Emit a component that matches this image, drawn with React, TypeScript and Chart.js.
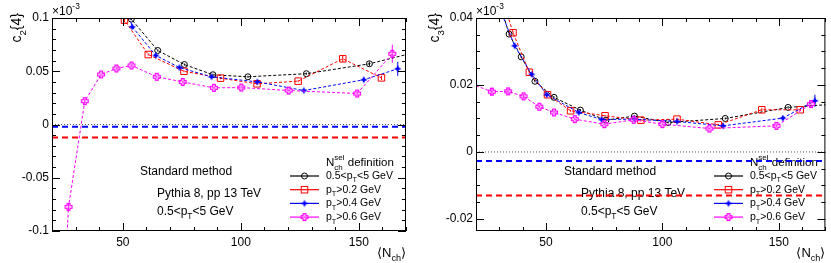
import React, { useEffect, useRef } from 'react';
import { Chart, registerables } from 'chart.js';

Chart.register(...registerables);

const FONT = '"Liberation Sans", Arial, Helvetica, sans-serif';

// ---------- shared x axis ----------
const xMin = 20;
const xMax = 170;
const xTickLabels = [50, 100, 150];
const xTitle = '⟨N_{ch}⟩';

// ---------- legend / annotation texts ----------
const legendTitle = 'N_{ch}^{sel} definition';
const seriesNames = ['0.5<p_T<5 GeV', 'p_T>0.2 GeV', 'p_T>0.4 GeV', 'p_T>0.6 GeV'];
const infoTexts = ['Standard method', 'Pythia 8, pp 13 TeV', '0.5<p_T<5 GeV'];
const scaleText = '×10^{-3}';

// ---------- c2{4} panel ----------
const c2Title = 'c_2{4}';
const c2YMin = -0.1;
const c2YMax = 0.1;
const c2YLabels = [-0.1, -0.05, 0, 0.05, 0.1];
const c2BlackN = [45, 53.6, 64.8, 76.1, 88.2, 103, 127.8, 154.5, 172];
const c2BlackV = [0.16, 0.099, 0.0695, 0.0563, 0.0467, 0.0448, 0.0477, 0.057, 0.0667];
const c2BlackE = [0, 0.001, 0.001, 0.001, 0.001, 0.001, 0.001, 0.002, 0.002];
const c2RedN = [44, 50.7, 60.8, 75.9, 91.4, 106.9, 124.3, 143.2, 159.6];
const c2RedV = [0.15, 0.098, 0.0657, 0.05, 0.0435, 0.0382, 0.0407, 0.0617, 0.0438];
const c2RedE = [0, 0.002, 0.001, 0.001, 0.001, 0.001, 0.001, 0.003, 0.002];
const c2BlueN = [46, 54, 64, 74, 87.6, 107, 126.7, 152.1, 166.5];
const c2BlueV = [0.155, 0.0917, 0.0648, 0.0535, 0.0448, 0.04, 0.0319, 0.042, 0.0523];
const c2BlueE = [0, 0.002, 0.001, 0.001, 0.001, 0.001, 0.001, 0.002, 0.0066];
const c2MagN = [24, 27, 33.9, 40.8, 47.3, 53.7, 64.4, 75.4, 88.6, 100.2, 120.3, 149.3, 164.2];
const c2MagV = [-0.2, -0.0773, 0.0219, 0.047, 0.0526, 0.0554, 0.0448, 0.04, 0.0344, 0.0347, 0.0319, 0.0291, 0.0664];
const c2MagE = [0, 0.003, 0.002, 0.001, 0.001, 0.001, 0.001, 0.001, 0.001, 0.001, 0.001, 0.002, 0.0085];
const c2RefBlue = -0.0022;
const c2RefRed = -0.0122;

// ---------- c3{4} panel ----------
const c3Title = 'c_3{4}';
const c3YMin = -0.0236;
const c3YMax = 0.04;
const c3YLabels = [-0.02, 0, 0.02, 0.04];
const c3BlackN = [30, 34.2, 39.4, 45.3, 53.5, 64.8, 75.8, 88, 102.5, 127, 154, 172];
const c3BlackV = [0.045, 0.0352, 0.0284, 0.0211, 0.0163, 0.0125, 0.0095, 0.0107, 0.0088, 0.01, 0.0133, 0.0142];
const c3BlackE = [0, 0.0004, 0.0003, 0.0003, 0.0003, 0.0003, 0.0003, 0.0003, 0.0003, 0.0003, 0.0004, 0.0004];
const c3RedN = [31, 35.9, 42.9, 50.7, 60.6, 75.4, 90.8, 106.3, 124, 142.7, 159.2];
const c3RedV = [0.0467, 0.0356, 0.0238, 0.0171, 0.0123, 0.0108, 0.0095, 0.0098, 0.0081, 0.0126, 0.0126];
const c3RedE = [0, 0.0004, 0.0003, 0.0003, 0.0003, 0.0003, 0.0003, 0.0003, 0.0003, 0.0005, 0.0004];
const c3BlueN = [29.5, 36.6, 43.9, 50.4, 64.1, 73.9, 88, 106.3, 126.1, 151.7, 165.5];
const c3BlueV = [0.044, 0.0317, 0.0232, 0.0171, 0.0118, 0.0097, 0.0098, 0.0091, 0.0078, 0.0101, 0.0153];
const c3BlueE = [0, 0.0006, 0.0004, 0.0003, 0.0003, 0.0003, 0.0003, 0.0003, 0.0003, 0.0006, 0.0018];
const c3MagN = [18, 26.8, 33.8, 40.4, 47.2, 53.5, 62.4, 75.1, 87.7, 100, 120.2, 149, 163.8];
const c3MagV = [0.0203, 0.018, 0.0181, 0.0166, 0.0135, 0.0118, 0.0098, 0.0083, 0.0096, 0.0083, 0.007, 0.0078, 0.0143];
const c3MagE = [0, 0.0012, 0.0008, 0.0006, 0.0004, 0.0004, 0.0003, 0.0003, 0.0003, 0.0003, 0.0003, 0.0004, 0.0012];
const c3RefBlue = -0.0027;
const c3RefRed = -0.013;

// ---------- rich text helpers ----------
type Seg = { t: string; sub?: boolean; sup?: boolean; stack?: boolean };

function parseRich(s: string): Seg[] {
  const out: Seg[] = [];
  let buf = '';
  let i = 0;
  const flush = () => {
    if (buf) {
      out.push({ t: buf });
      buf = '';
    }
  };
  while (i < s.length) {
    const c = s[i];
    if (c === '_' || c === '^') {
      flush();
      let g = '';
      if (s[i + 1] === '{') {
        const j = s.indexOf('}', i + 2);
        g = s.slice(i + 2, j);
        i = j + 1;
      } else {
        g = s[i + 1];
        i += 2;
      }
      const seg: Seg = c === '_' ? { t: g, sub: true } : { t: g, sup: true };
      const prev = out[out.length - 1];
      if (prev && ((prev.sub && seg.sup) || (prev.sup && seg.sub))) prev.stack = true;
      out.push(seg);
    } else {
      buf += c;
      i++;
    }
  }
  flush();
  return out;
}

function drawRich(ctx: CanvasRenderingContext2D, text: string, x: number, y: number, size: number, align = 'left', color = '#000') {
  const segs = parseRich(text);
  const small = size * 0.7;
  const widths = segs.map((sg) => {
    ctx.font = `${sg.sub || sg.sup ? small : size}px ${FONT}`;
    return ctx.measureText(sg.t).width;
  });
  const adv = (i: number) => (i > 0 && segs[i - 1].stack ? Math.max(widths[i], widths[i - 1]) : widths[i]);
  let total = 0;
  segs.forEach((sg, i) => {
    if (!sg.stack) total += adv(i);
  });
  let cx = align === 'right' ? x - total : align === 'center' ? x - total / 2 : x;
  ctx.fillStyle = color;
  ctx.textBaseline = 'middle';
  ctx.textAlign = 'left';
  segs.forEach((sg, i) => {
    ctx.font = `${sg.sub || sg.sup ? small : size}px ${FONT}`;
    const dy = sg.sub ? size * 0.42 : sg.sup ? -size * 0.45 : 0;
    ctx.fillText(sg.t, cx, y + dy);
    if (!sg.stack) cx += adv(i);
  });
}

// ---------- markers ----------
function starImg(color: string, r: number) {
  const c = document.createElement('canvas');
  const s = Math.ceil(2 * r + 2);
  c.width = s;
  c.height = s;
  const g = c.getContext('2d')!;
  const cx = s / 2;
  g.fillStyle = color;
  g.beginPath();
  for (let k = 0; k < 8; k++) {
    const ang = (k * Math.PI) / 4 - Math.PI / 2;
    const rr = k % 2 === 0 ? r : r * 0.42;
    g.lineTo(cx + rr * Math.cos(ang), cx + rr * Math.sin(ang));
  }
  g.closePath();
  g.fill();
  return c;
}

function crossImg(color: string, r: number) {
  const c = document.createElement('canvas');
  const s = Math.ceil(2 * r + 3);
  c.width = s;
  c.height = s;
  const g = c.getContext('2d')!;
  const cx = s / 2;
  const w = r * 0.42;
  g.beginPath();
  g.moveTo(cx - w, cx - r);
  g.lineTo(cx + w, cx - r);
  g.lineTo(cx + w, cx - w);
  g.lineTo(cx + r, cx - w);
  g.lineTo(cx + r, cx + w);
  g.lineTo(cx + w, cx + w);
  g.lineTo(cx + w, cx + r);
  g.lineTo(cx - w, cx + r);
  g.lineTo(cx - w, cx + w);
  g.lineTo(cx - r, cx + w);
  g.lineTo(cx - r, cx - w);
  g.lineTo(cx - w, cx - w);
  g.closePath();
  g.fillStyle = 'rgba(255,120,255,0.35)';
  g.fill();
  g.strokeStyle = color;
  g.lineWidth = 1.1;
  g.stroke();
  return c;
}

type Series = { N: number[]; V: number[]; E: number[]; color: string; kind: string; name: string };

type PanelCfg = {
  title: string;
  titleX: number;
  yMin: number;
  yMax: number;
  yMinor: number;
  yMajor: number;
  yLabels: number[];
  yWidth: number;
  padRight: number;
  series: Series[];
  refBlue: number;
  refRed: number;
};

function drawMarker(ctx: CanvasRenderingContext2D, kind: string, color: string, x: number, y: number, imgs: any) {
  ctx.save();
  ctx.strokeStyle = color;
  ctx.lineWidth = 1;
  if (kind === 'circle') {
    ctx.beginPath();
    ctx.arc(x, y, 3, 0, Math.PI * 2);
    ctx.stroke();
  } else if (kind === 'rect') {
    ctx.strokeRect(x - 3.25, y - 3.25, 6.5, 6.5);
  } else {
    const img = imgs[kind];
    ctx.drawImage(img, x - img.width / 2, y - img.height / 2);
  }
  ctx.restore();
}

function makePlugin(cfg: PanelCfg, imgs: any) {
  return {
    id: 'rootStyle',
    beforeDatasetsDraw(chart: any) {
      const { ctx, chartArea: a, scales } = chart;
      const xs = scales.x;
      const ys = scales.y;
      ctx.save();
      // info texts
      drawRich(ctx, infoTexts[0], a.left + 88, 172, 12);
      drawRich(ctx, infoTexts[1], a.left + 105, 194, 12);
      drawRich(ctx, infoTexts[2], a.left + 105, 212, 12);
      // legend
      drawRich(ctx, legendTitle, a.left + 274, 163, 11.5);
      cfg.series.forEach((s, i) => {
        const y = 176 + 13.7 * i;
        ctx.strokeStyle = s.color;
        ctx.lineWidth = 1.2;
        ctx.setLineDash([]);
        ctx.beginPath();
        ctx.moveTo(a.left + 238, y);
        ctx.lineTo(a.left + 267, y);
        ctx.stroke();
        drawMarker(ctx, s.kind, s.color, a.left + 252.5, y, imgs);
        drawRich(ctx, s.name, a.left + 274, y, 10.5);
      });
      // error bars
      ctx.beginPath();
      ctx.rect(a.left, a.top, a.width, a.height);
      ctx.clip();
      cfg.series.forEach((s) => {
        ctx.strokeStyle = s.color;
        ctx.lineWidth = 1;
        s.N.forEach((n, i) => {
          if (!s.E[i]) return;
          const px = xs.getPixelForValue(n);
          ctx.beginPath();
          ctx.moveTo(px, ys.getPixelForValue(s.V[i] - s.E[i]));
          ctx.lineTo(px, ys.getPixelForValue(s.V[i] + s.E[i]));
          ctx.stroke();
        });
      });
      ctx.restore();
    },
    afterDatasetsDraw(chart: any) {
      const { ctx, chartArea: a, scales } = chart;
      const xs = scales.x;
      const ys = scales.y;
      ctx.save();
      ctx.strokeStyle = '#000';
      ctx.lineWidth = 1;
      ctx.setLineDash([]);
      ctx.strokeRect(a.left + 0.5, a.top + 0.5, a.width - 1, a.height - 1);
      // x ticks (bottom + top)
      ctx.beginPath();
      for (let v = xMin; v <= xMax + 1e-9; v += 10) {
        const px = Math.round(xs.getPixelForValue(v)) + 0.5;
        const major = Math.abs(v / 50 - Math.round(v / 50)) < 1e-6;
        const len = major ? 8 : 4;
        ctx.moveTo(px, a.bottom);
        ctx.lineTo(px, a.bottom - len);
        ctx.moveTo(px, a.top);
        ctx.lineTo(px, a.top + len);
      }
      // y ticks (left + right)
      const start = Math.ceil(cfg.yMin / cfg.yMinor - 1e-6) * cfg.yMinor;
      for (let k = 0; ; k++) {
        const v = start + k * cfg.yMinor;
        if (v > cfg.yMax + 1e-9) break;
        const py = Math.round(ys.getPixelForValue(v)) + 0.5;
        const major = Math.abs(v / cfg.yMajor - Math.round(v / cfg.yMajor)) < 1e-6;
        const len = major ? 8 : 4;
        ctx.moveTo(a.left, py);
        ctx.lineTo(a.left + len, py);
        ctx.moveTo(a.right, py);
        ctx.lineTo(a.right - len, py);
      }
      ctx.stroke();
      ctx.restore();
    },
    afterDraw(chart: any) {
      const { ctx, chartArea: a } = chart;
      ctx.save();
      // y title rotated
      ctx.translate(cfg.titleX, 13);
      ctx.rotate(-Math.PI / 2);
      drawRich(ctx, cfg.title, 0, 0, 14, 'right');
      ctx.restore();
      ctx.save();
      drawRich(ctx, scaleText, a.left, 12, 12);
      drawRich(ctx, xTitle, a.right, 253, 13, 'right');
      ctx.restore();
    },
  };
}

function Panel({ cfg, width, left }: { cfg: PanelCfg; width: number; left: number }) {
  const ref = useRef<HTMLCanvasElement>(null);
  useEffect(() => {
    const imgs = { star: starImg('#0000ff', 3.8), cross: crossImg('#ff00ff', 3.4) };
    const order: Record<string, number> = { circle: 5, rect: 4, star: 3, cross: 2 };
    const datasets: any[] = cfg.series.map((s) => ({
      label: s.name,
      data: s.N.map((n, i) => ({ x: n, y: s.V[i] })),
      borderColor: s.color,
      borderWidth: 1,
      borderDash: [3, 2],
      tension: 0,
      fill: false,
      showLine: true,
      pointStyle: s.kind === 'circle' ? 'circle' : s.kind === 'rect' ? 'rect' : imgs[s.kind as 'star' | 'cross'],
      pointRadius: s.kind === 'circle' ? 3 : s.kind === 'rect' ? 4.6 : 4,
      pointBorderColor: s.color,
      pointBackgroundColor: 'rgba(255,255,255,0)',
      pointBorderWidth: 1,
      order: order[s.kind],
    }));
    const refLine = (v: number, color: string, dash: number[], w: number, ord: number) => ({
      label: 'ref',
      data: [
        { x: xMin, y: v },
        { x: xMax, y: v },
      ],
      borderColor: color,
      borderWidth: w,
      borderDash: dash,
      pointRadius: 0,
      showLine: true,
      fill: false,
      order: ord,
    });
    datasets.push(refLine(0, '#555', [1, 2], 1, 8));
    datasets.push(refLine(cfg.refBlue, '#0000ff', [6, 4], 2, 7));
    datasets.push(refLine(cfg.refRed, '#ff0000', [6, 4], 2, 6));

    const chart = new Chart(ref.current!, {
      type: 'line',
      data: { datasets },
      options: {
        animation: false,
        responsive: false,
        devicePixelRatio: 1,
        events: [],
        layout: { padding: { left: 0, right: cfg.padRight, top: 18, bottom: 0 } },
        plugins: { legend: { display: false }, tooltip: { enabled: false } },
        scales: {
          x: {
            type: 'linear',
            min: xMin,
            max: xMax,
            afterFit: (s: any) => {
              s.height = 32;
            },
            grid: { display: false, drawTicks: false },
            border: { display: false },
            ticks: {
              stepSize: 10,
              padding: 4,
              autoSkip: false,
              includeBounds: false,
              maxRotation: 0,
              color: '#000',
              font: { family: FONT, size: 12 },
              callback: (v: any) => {
                const l = xTickLabels.find((t) => Math.abs(t - v) < 1e-6);
                return l === undefined ? '' : String(l);
              },
            },
          },
          y: {
            type: 'linear',
            min: cfg.yMin,
            max: cfg.yMax,
            afterFit: (s: any) => {
              s.width = cfg.yWidth;
            },
            grid: { display: false, drawTicks: false },
            border: { display: false },
            ticks: {
              stepSize: cfg.yMinor,
              padding: 3,
              autoSkip: false,
              includeBounds: false,
              color: '#000',
              font: { family: FONT, size: 12 },
              callback: (v: any) => {
                const l = cfg.yLabels.find((t) => Math.abs(t - v) < 1e-7);
                return l === undefined ? '' : String(l);
              },
            },
          },
        },
      } as any,
      plugins: [makePlugin(cfg, imgs)],
    });
    return () => chart.destroy();
  }, [cfg]);
  return (
    <div style={{ position: 'absolute', left, top: 0, width, height: 263 }}>
      <canvas ref={ref} width={width} height={263} style={{ width, height: 263, display: 'block' }} />
    </div>
  );
}

const colors = ['#000000', '#ff0000', '#0000ff', '#ff00ff'];
const kinds = ['circle', 'rect', 'star', 'cross'];

const c2Cfg: PanelCfg = {
  title: c2Title,
  titleX: 17,
  yMin: c2YMin,
  yMax: c2YMax,
  yMinor: 0.01,
  yMajor: 0.05,
  yLabels: c2YLabels,
  yWidth: 52,
  padRight: 9,
  series: [
    { N: c2BlackN, V: c2BlackV, E: c2BlackE, color: colors[0], kind: kinds[0], name: seriesNames[0] },
    { N: c2RedN, V: c2RedV, E: c2RedE, color: colors[1], kind: kinds[1], name: seriesNames[1] },
    { N: c2BlueN, V: c2BlueV, E: c2BlueE, color: colors[2], kind: kinds[2], name: seriesNames[2] },
    { N: c2MagN, V: c2MagV, E: c2MagE, color: colors[3], kind: kinds[3], name: seriesNames[3] },
  ],
  refBlue: c2RefBlue,
  refRed: c2RefRed,
};

const c3Cfg: PanelCfg = {
  title: c3Title,
  titleX: 20,
  yMin: c3YMin,
  yMax: c3YMax,
  yMinor: 0.005,
  yMajor: 0.02,
  yLabels: c3YLabels,
  yWidth: 61,
  padRight: 1.5,
  series: [
    { N: c3BlackN, V: c3BlackV, E: c3BlackE, color: colors[0], kind: kinds[0], name: seriesNames[0] },
    { N: c3RedN, V: c3RedV, E: c3RedE, color: colors[1], kind: kinds[1], name: seriesNames[1] },
    { N: c3BlueN, V: c3BlueV, E: c3BlueE, color: colors[2], kind: kinds[2], name: seriesNames[2] },
    { N: c3MagN, V: c3MagV, E: c3MagE, color: colors[3], kind: kinds[3], name: seriesNames[3] },
  ],
  refBlue: c3RefBlue,
  refRed: c3RefRed,
};

export default function App() {
  return (
    <div style={{ position: 'fixed', left: 0, top: 0, width: 831, height: 263, background: '#fff' }}>
      <Panel cfg={c2Cfg} width={415} left={0} />
      <Panel cfg={c3Cfg} width={416} left={415} />
    </div>
  );
}
